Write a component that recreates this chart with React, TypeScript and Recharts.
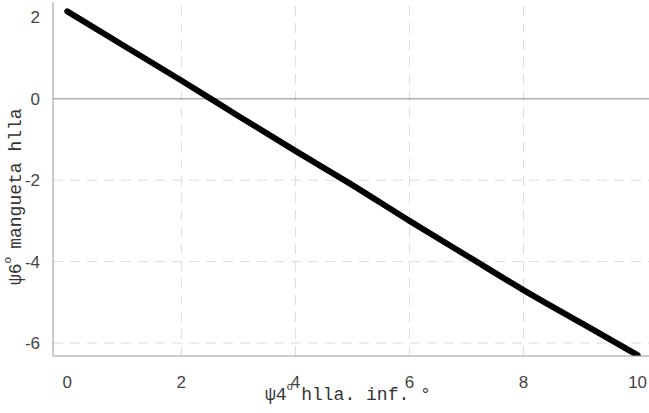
import React from "react";
import { LineChart, Line, XAxis, YAxis, ReferenceLine, Label } from "recharts";

const xValues = [0, 1, 2, 3, 4, 5, 6, 7, 8, 9, 10];
const yValues = [2.15, 1.3, 0.45, -0.42, -1.28, -2.12, -3.0, -3.85, -4.7, -5.5, -6.3];
const xTicks = [0, 2, 4, 6, 8, 10];
const yTicks = [-6, -4, -2, 0, 2];
const gridX = [2, 4, 6, 8];
const gridY = [-6, -4, -2];
const xLabelHead = "ψ4";
const xLabelTail = "hlla. inf. °";
const yLabelHead = "ψ6";
const yLabelTail = "mangueta hlla";

const data = xValues.map((x, i) => ({ x, y: yValues[i] }));

const mono = "'Liberation Mono', 'DejaVu Sans Mono', monospace";
const sans = "'Liberation Sans', Arial, sans-serif";

export default function App() {
  return (
    <div style={{ position: "absolute", left: 0, top: 0, width: 649, height: 413, background: "#fff" }}>
      <LineChart width={649} height={413} data={data} margin={{ top: 2, right: 0, bottom: 0, left: 0 }}>
        <XAxis
          dataKey="x"
          type="number"
          domain={[-0.25, 10.2]}
          ticks={xTicks}
          height={57}
          tickLine={false}
          tickMargin={14}
          axisLine={{ stroke: "#9a9a9a" }}
          tick={{ fill: "#444", fontSize: 17, fontFamily: sans }}
          allowDataOverflow
        >
          <Label
            content={(props: any) => {
              const vb = props.viewBox;
              const x0 = vb.x + 212;
              const y0 = vb.y + 44;
              return (
                <text x={x0} y={y0} textAnchor="start" fontFamily={mono} fontSize={18} fill="#333">
                  {xLabelHead}
                  <tspan dy={-10} fontSize={11}>o</tspan>
                  <tspan dy={10} dx={8}>{xLabelTail}</tspan>
                </text>
              );
            }}
          />
        </XAxis>
        <XAxis xAxisId="top" orientation="top" type="number" domain={[-0.25, 10.2]} height={0} tick={false} tickLine={false} axisLine={{ stroke: "#9a9a9a" }} />
        <YAxis
          type="number"
          domain={[-6.32, 2.38]}
          ticks={yTicks}
          width={53}
          tickLine={false}
          tickMargin={7}
          axisLine={{ stroke: "#9a9a9a" }}
          tick={{ fill: "#444", fontSize: 17, fontFamily: sans }}
          allowDataOverflow
        >
          <Label
            content={(props: any) => {
              const vb = props.viewBox;
              const cx = 21;
              const cy = vb.y + 283;
              return (
                <text x={cx} y={cy} textAnchor="start" fontFamily={mono} fontSize={18} fill="#333" transform={`rotate(-90, ${cx}, ${cy})`}>
                  {yLabelHead}
                  <tspan dy={-10} fontSize={11}>o</tspan>
                  <tspan dy={10} dx={8}>{yLabelTail}</tspan>
                </text>
              );
            }}
          />
        </YAxis>
        {gridX.map((g) => (
          <ReferenceLine key={"gx" + g} x={g} stroke="#dcdcdc" strokeDasharray="10 7" />
        ))}
        {gridY.map((g) => (
          <ReferenceLine key={"gy" + g} y={g} stroke="#dcdcdc" strokeDasharray="10 7" />
        ))}
        <ReferenceLine y={0} stroke="#8a8a8a" strokeWidth={1} />
        <Line
          type="monotone"
          dataKey="y"
          stroke="#000"
          strokeWidth={6}
          strokeLinecap="round"
          dot={false}
          isAnimationActive={false}
        />
      </LineChart>
    </div>
  );
}
